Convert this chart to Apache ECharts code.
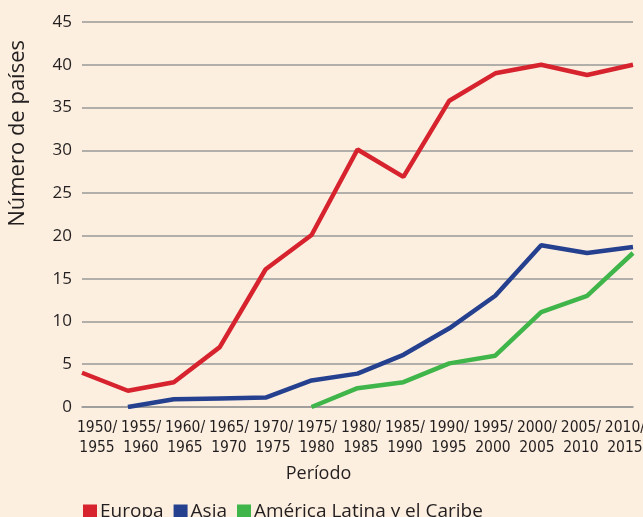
<!DOCTYPE html>
<html>
<head>
<meta charset="utf-8">
<script src="https://cdn.jsdelivr.net/npm/echarts@6/dist/echarts.min.js"></script>
<style>
  html, body { margin: 0; padding: 0; background: #fcefe0; }
  #chart { width: 643px; height: 517px; }
</style>
</head>
<body>
<div id="chart"></div>
<script>
// periods on the x axis
const periods = [
  '1950/\n1955', '1955/\n1960', '1960/\n1965', '1965/\n1970', '1970/\n1975',
  '1975/\n1980', '1980/\n1985', '1985/\n1990', '1990/\n1995', '1995/\n2000',
  '2000/\n2005', '2005/\n2010', '2010/\n2015'
];
const europa = [4, 1.9, 2.9, 7, 16.1, 20.1, 30.1, 26.9, 35.8, 39, 40, 38.8, 40];
const asia = [null, 0, 0.9, 1, 1.1, 3.1, 3.9, 6.1, 9.2, 13, 18.9, 18, 18.7];
const latam = [null, null, null, null, null, 0, 2.2, 2.9, 5.1, 6, 11.1, 13, 18];

const font = '"Open Sans", sans-serif';
const narrow = '"DejaVu Sans Condensed", "Liberation Sans Narrow", "Open Sans", sans-serif';
const textColor = '#231f20';

const chart = echarts.init(document.getElementById('chart'));

// the printed labels are spaced a bit tighter than the points: nudge them
const categoryData = periods.map((p, i) => {
  const shift = 15 - 1.92 * i;
  const pad = shift >= 0 ? [0, 0, 0, 2 * shift] : [0, -2 * shift, 0, 0];
  return { value: p, textStyle: { padding: pad } };
});

const line = (name, data, color) => ({
  name,
  type: 'line',
  data,
  symbol: 'none',
  connectNulls: false,
  lineStyle: { color, width: 4.5 },
  itemStyle: { color },
  animation: false,
});

chart.setOption({
  backgroundColor: '#fcefe0',
  textStyle: { fontFamily: font, color: textColor },
  grid: { left: 82, right: 10, top: 22, bottom: 110, outerBoundsMode: 'none', containLabel: false },
  legend: {
    bottom: -9,
    left: 78,
    icon: 'rect',
    itemWidth: 14,
    itemHeight: 14,
    itemGap: 10,
    textStyle: { fontSize: 19, color: textColor, fontFamily: font, padding: [0, 0, 0, -2] },
    data: ['Europa', 'Asia', 'América Latina y el Caribe'],
  },
  xAxis: {
    type: 'category',
    data: categoryData,
    boundaryGap: false,
    name: 'Período',
    nameLocation: 'middle',
    nameGap: 58,
    nameTextStyle: { fontSize: 18, color: textColor, fontFamily: font, padding: [0, 78, 0, 0] },
    axisLine: { lineStyle: { color: '#9a9a9a', width: 1.5 } },
    axisTick: { show: false },
    axisLabel: { fontSize: 15.5, color: textColor, lineHeight: 20, margin: 11, interval: 0, fontFamily: narrow },
  },
  yAxis: {
    type: 'value',
    min: 0,
    max: 45,
    interval: 5,
    axisLine: { show: false },
    axisTick: { show: false },
    axisLabel: { fontSize: 17, color: textColor, margin: 10, fontFamily: font },
    splitLine: { lineStyle: { color: '#9a9a9a', width: 1.5 } },
  },
  graphic: [{
    type: 'text',
    left: 7,
    top: 40,
    rotation: Math.PI / 2,
    style: {
      text: 'Número de países',
      font: '22px "Open Sans", sans-serif',
      fill: textColor,
    },
  }],
  series: [
    line('Europa', europa, '#d7232e'),
    line('Asia', asia, '#25408f'),
    line('América Latina y el Caribe', latam, '#3fb54a'),
  ],
});
</script>
</body>
</html>
